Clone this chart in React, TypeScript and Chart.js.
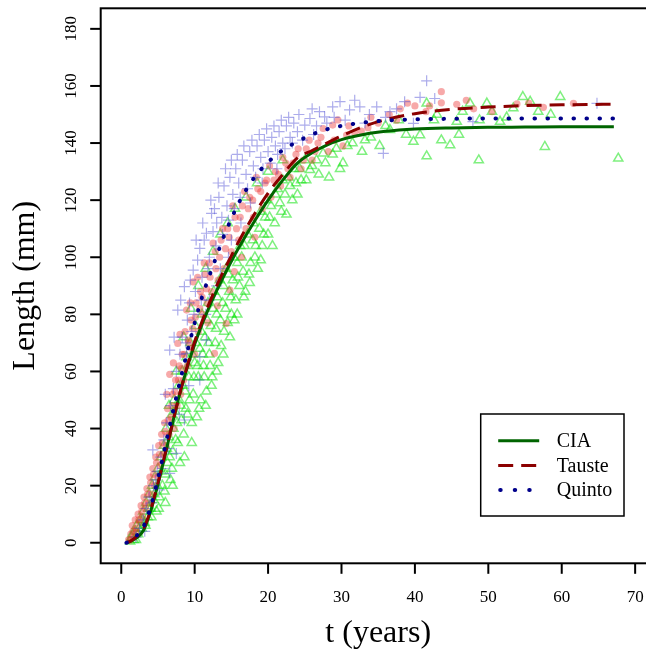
import React, { useEffect, useRef } from "react";
import { Chart, registerables } from "chart.js";

Chart.register(...registerables);

// ---- fitted growth curves (t in years, length in mm) ----
const curveT = [0.7, 1, 1.5, 2, 3, 4, 5, 6, 7, 8, 9, 10, 11, 12, 13, 14, 15, 16, 18, 20, 22, 24, 26, 28, 30, 33, 36, 40, 45, 50, 55, 60, 67.1];
const ciaFit = [0, 0.2, 0.8, 1.6, 4.2, 11, 20.5, 31, 42, 52.5, 61.5, 69.5, 76.5, 82.7, 88.3, 93.6, 98.6, 103.3, 112, 120, 127, 133, 136.6, 139.3, 141.2, 143, 144.1, 144.9, 145.3, 145.5, 145.6, 145.7, 145.7];
const tausteFit = [0, 0.3, 1, 2, 4.8, 11.5, 21, 31.5, 42, 52.5, 62, 70.5, 77.5, 84, 90, 95.5, 100.5, 105.5, 114.5, 122.5, 129, 134.8, 137.4, 140, 142.5, 145.8, 148.2, 150.3, 151.8, 152.6, 153.1, 153.4, 153.6];
const quintoFit = [0, 0.3, 1, 2.2, 5.5, 12.5, 22.5, 34, 45.5, 56.5, 67, 77, 86, 93.5, 100.5, 107.5, 113.5, 119, 127.5, 133.3, 137.5, 140.5, 143, 144.8, 146, 147.2, 147.9, 148.3, 148.5, 148.6, 148.6, 148.6, 148.6];

// ---- observations [t, length] ----
const ciaObs: [number, number][] = [
  [1.2, 0.5], [1.4, 2], [1.7, 1], [1.9, 4], [2.1, 6], [2.3, 3], [2.6, 8], [2.8, 5], [3.0, 11], [3.2, 7],
  [3.4, 14], [3.6, 9], [3.8, 17], [4.0, 12], [4.2, 20], [4.4, 15], [4.6, 23], [4.8, 11], [5.0, 26], [5.2, 16],
  [5.4, 30], [5.6, 20], [5.8, 34], [6.0, 24], [6.1, 40], [6.3, 28], [6.5, 37], [6.7, 22], [6.9, 45], [7.0, 32],
  [7.2, 50], [7.4, 36], [7.6, 42], [7.8, 55], [8.0, 28], [8.1, 48], [8.3, 60], [8.5, 38], [8.7, 53], [8.9, 65],
  [9.0, 45], [9.2, 58], [9.4, 70], [9.6, 35], [9.8, 52], [10.0, 63], [10.1, 76], [10.3, 44], [10.5, 58], [10.7, 68],
  [10.8, 50], [11.0, 80], [11.2, 62], [11.4, 72], [11.6, 53], [11.8, 84], [12.0, 66], [12.2, 76], [12.4, 58], [12.6, 88],
  [12.8, 70], [13.0, 80], [13.2, 63], [13.4, 92], [13.6, 69], [13.8, 84], [14.0, 74], [14.3, 96], [14.5, 77], [14.7, 88],
  [15.0, 80], [15.3, 100], [15.6, 85], [15.9, 93], [16.2, 104], [16.6, 95], [16.9, 88], [17.2, 108], [17.6, 98], [18.0, 112],
  [18.3, 104], [18.6, 96], [19.0, 116], [19.4, 108], [19.8, 120], [20.2, 114], [20.6, 104], [21.0, 122], [21.6, 119], [22.0, 127],
  [22.5, 115], [23.0, 125], [23.5, 131], [24.0, 122], [24.5, 127], [25.0, 134], [25.7, 130.6], [26.6, 134], [27.5, 136.4], [28.3, 128],
  [29.3, 138.1], [30.2, 133], [31.5, 140], [32.8, 137], [34.0, 142], [35.2, 139], [36.6, 144.6], [37.8, 148], [39.8, 140.5], [40.7, 142.8],
  [41.6, 135.4], [41.6, 153.9], [42.6, 148], [43.6, 141], [44.8, 139.3], [45.7, 147.5], [46.5, 151], [47.5, 153.9], [48.7, 134], [48.8, 148],
  [49.8, 153.9], [51.6, 147.5], [53.4, 152.2], [54.7, 156.2], [55.7, 154.5], [56.8, 151], [57.7, 138.7], [59.8, 156.2], [67.7, 134.6],
  [6.5, 48], [7.5, 60], [8.5, 72], [9.5, 82], [10.5, 90], [11.5, 96], [12.5, 102], [13.5, 108], [14.5, 112], [15.5, 117],
  [17.0, 121], [18.5, 126], [20.0, 130], [22.0, 134],
  [1.5, 3], [2.0, 1], [2.4, 5], [2.9, 8], [3.3, 6], [3.7, 12], [4.1, 9], [4.5, 17], [4.9, 20], [5.1, 12],
  [5.5, 25], [5.9, 18], [6.2, 33], [6.6, 30], [6.9, 26], [7.1, 40], [7.3, 46], [7.7, 35], [7.9, 50], [8.2, 43],
  [8.4, 55], [8.8, 47], [9.1, 62], [9.3, 50], [9.7, 66], [9.9, 58], [10.2, 70], [10.4, 62], [10.6, 47], [10.9, 74],
  [11.1, 66], [11.3, 58], [11.7, 78], [11.9, 70], [12.1, 62], [12.5, 82], [12.9, 75], [13.1, 86], [13.5, 78], [13.9, 90],
  [14.2, 82], [14.6, 94], [14.9, 86], [15.2, 92], [15.4, 78], [15.8, 98], [16.1, 90], [16.4, 100], [16.8, 104], [17.4, 94],
  [17.9, 106], [18.2, 100], [18.8, 110], [19.2, 104], [19.6, 114], [20.0, 108], [20.4, 118], [20.9, 112], [21.3, 124], [21.8, 116],
  [22.3, 122], [22.8, 128], [23.3, 120], [23.8, 126], [24.3, 131], [25.2, 127], [26.0, 132], [26.9, 129], [27.8, 133], [28.8, 136],
  [29.8, 131], [30.8, 139], [33.2, 141], [36.0, 146], [38.8, 143], [43.0, 150], [46.0, 143], [50.5, 151], [52.5, 149], [58.5, 150],
  [6.0, 14], [7.0, 20], [8.6, 30], [9.6, 42], [11.5, 48], [12.3, 55], [13.0, 60], [13.9, 66], [14.8, 72], [15.8, 80],
  [16.7, 86], [17.5, 91], [19.0, 99],
];

const tausteObs: [number, number][] = [
  [1.0, 1], [1.3, 3], [1.5, 6], [1.7, 2], [1.9, 8], [2.1, 4], [2.3, 10], [2.5, 7], [2.7, 13], [2.9, 9],
  [3.1, 16], [3.3, 12], [3.5, 19], [3.7, 14], [3.9, 23], [4.1, 17], [4.3, 26], [4.5, 20], [4.7, 30], [4.9, 23],
  [5.1, 34], [5.3, 27], [5.5, 38], [5.7, 31], [5.9, 42], [6.1, 34], [6.3, 47], [6.5, 38], [6.6, 59], [6.8, 44],
  [7.0, 52], [7.2, 40], [7.4, 57], [7.6, 48], [7.7, 69.8], [7.9, 62], [8.1, 52], [8.3, 66], [8.5, 57], [8.7, 74],
  [8.9, 81.5], [9.0, 62], [9.2, 70], [9.5, 78], [9.8, 91.4], [10.0, 66], [10.2, 84], [10.5, 74], [10.8, 88], [11.1, 80],
  [11.4, 94], [11.7, 84], [12.0, 98], [12.3, 88], [12.7, 66.3], [12.8, 102], [13.2, 92], [13.6, 106], [14.0, 96], [14.3, 76.8],
  [14.5, 110], [14.8, 88.5], [15.0, 102], [15.5, 114], [16.0, 106], [16.5, 118], [17.0, 110], [17.5, 121], [18.0, 114], [18.6, 124],
  [19.2, 117], [19.8, 127], [20.4, 121], [21.0, 130], [21.7, 125], [22.4, 133], [23.0, 128], [23.8, 136], [24.5, 131], [25.2, 138],
  [26.0, 134], [26.8, 140], [27.5, 145.1], [28.2, 137], [28.8, 146.3], [29.5, 148.1], [30.2, 139], [30.7, 142.8], [31.8, 143.6], [32.7, 144.2],
  [33.6, 145.4], [35.0, 147], [36.5, 150], [38.0, 152], [40.0, 153], [41.5, 151], [43.6, 158], [43.6, 154.1], [45.7, 153.6], [48.0, 152],
  [50.5, 151], [53.9, 153.7], [57.5, 152.5], [61.6, 153.9],
  [1.2, 1], [1.6, 4], [2.0, 5], [2.4, 8], [2.8, 11], [3.2, 14], [3.6, 17], [4.0, 21], [4.4, 24], [4.8, 28],
  [5.2, 31], [5.6, 35], [6.0, 39], [6.4, 43], [6.2, 52], [6.9, 48], [7.3, 53], [7.1, 63], [7.8, 57], [8.2, 61],
  [8.0, 73], [8.6, 66], [9.1, 71], [9.4, 84], [9.7, 75], [10.1, 79], [10.4, 93], [10.7, 82], [11.0, 86], [11.3, 98],
  [11.6, 89], [12.1, 93], [12.5, 105], [12.9, 96], [13.4, 100], [13.8, 110], [14.2, 103], [14.7, 107], [15.2, 118], [15.7, 110],
  [16.2, 114], [16.8, 123], [17.3, 117], [17.9, 120], [18.4, 128], [19.0, 123], [19.6, 126], [20.2, 132], [20.8, 127], [21.4, 129],
  [22.0, 135], [22.7, 131], [23.4, 133], [24.1, 138], [24.8, 134], [25.6, 141], [26.4, 137], [27.2, 142], [29.0, 141], [31.0, 146],
  [34.0, 149], [37.5, 148], [39.0, 154], [42.0, 153], [47.0, 155], [55.5, 154], [9.6, 68], [11.8, 77], [13.1, 83], [15.4, 95],
  [16.4, 100], [18.2, 107],
];

const quintoObs: [number, number][] = [
  [2.0, 2], [2.5, 5], [3.0, 8], [3.4, 12], [3.8, 16], [4.3, 32.5], [4.4, 20], [4.9, 25], [5.2, 18.5], [5.4, 30],
  [5.8, 36], [6.2, 42], [6.6, 24.3], [6.6, 67.5], [6.7, 48], [7.1, 54], [7.5, 31.3], [7.5, 60], [7.7, 81.5], [8.0, 66],
  [8.3, 72], [8.6, 43], [8.6, 89.7], [8.9, 66.3], [9.0, 78], [9.3, 84], [9.6, 74], [9.8, 95.5], [10.1, 88], [10.4, 99],
  [10.7, 103.1], [10.7, 65.2], [10.7, 57], [11.0, 93], [11.3, 106], [11.6, 108.4], [11.6, 71], [12.0, 100], [12.3, 115.4], [12.5, 109],
  [12.7, 117], [13.0, 112], [13.3, 121], [13.7, 114], [14.0, 125], [14.4, 118], [14.8, 128], [15.2, 122], [15.6, 131], [16.0, 126],
  [16.5, 134], [17.0, 129], [17.5, 137], [18.0, 132], [18.5, 139], [19.0, 135], [19.5, 141], [20.0, 137], [20.5, 142], [21.0, 139],
  [21.5, 144], [22.0, 140], [22.5, 146], [23.0, 142], [23.5, 147], [24.0, 144], [25.0, 146.3], [25.7, 148.6], [26.2, 143], [27.0, 151],
  [27.7, 149.2], [28.8, 152.7], [29.8, 154.5], [31.1, 151.6], [32.5, 152.7], [33.2, 147], [34.8, 152.7], [35.7, 136.4], [36.6, 151], [38.6, 154.5],
  [39.8, 146.9], [40.7, 156], [41.6, 161.8], [42.7, 155.6], [47.9, 147.5], [64.8, 153.9],
  [9.2, 55], [12.0, 85], [13.5, 96], [15.0, 106], [16.3, 112], [17.6, 119], [19.2, 126], [21.2, 131],
  [3.2, 4], [4.1, 14], [4.7, 22], [5.6, 26], [6.0, 52], [6.4, 33], [7.2, 72], [7.9, 45], [8.1, 85], [8.8, 70],
  [9.4, 92], [9.9, 80], [10.2, 106], [10.9, 85], [11.1, 112], [11.8, 96], [12.2, 120], [12.9, 104], [13.2, 126], [13.8, 108],
  [14.2, 131], [14.6, 113], [15.0, 134], [15.4, 117], [15.8, 136], [16.2, 121], [16.7, 139], [17.2, 124], [17.8, 141], [18.3, 128],
  [18.8, 143], [19.3, 131], [19.8, 145], [20.3, 133], [20.8, 146], [21.3, 136], [21.8, 148], [22.3, 138], [22.8, 149], [23.3, 140],
  [24.2, 150], [24.7, 141], [26.0, 152], [26.6, 146], [28.0, 147], [29.0, 149], [30.5, 148], [31.8, 155], [33.8, 150], [36.0, 149],
  [37.5, 152], [11.5, 80], [13.0, 90], [14.6, 100],
];

const xTicks = [0, 10, 20, 30, 40, 50, 60, 70];
const yTicks = [0, 20, 40, 60, 80, 100, 120, 140, 160, 180];
const legendLabels = ["CIA", "Tauste", "Quinto"];
const xTitle = "t (years)";
const yTitle = "Length (mm)";

const COL_CIA = "#006400";
const COL_TAU = "#8B0000";
const COL_QUI = "#00008B";
const SERIF = '"Liberation Serif", "Times New Roman", serif';

const toXY = (arr: [number, number][]) => arr.map(([x, y]) => ({ x, y }));
const fitXY = (vals: number[]) => curveT.map((t, i) => ({ x: t, y: vals[i] }));

const framePlugin = {
  id: "frame",
  afterDatasetsDraw(chart: any) {
    const ctx: CanvasRenderingContext2D = chart.ctx;
    const { left, right, top, bottom } = chart.chartArea;
    const xs = chart.scales.x;
    const ys = chart.scales.y;
    ctx.save();
    ctx.strokeStyle = "#000";
    ctx.fillStyle = "#000";
    ctx.lineWidth = 2;
    ctx.strokeRect(left, top, right - left, bottom - top);

    // y axis ticks + labels
    ctx.font = `17px ${SERIF}`;
    ctx.textAlign = "center";
    ctx.textBaseline = "middle";
    for (const v of yTicks) {
      const py = ys.getPixelForValue(v);
      ctx.beginPath();
      ctx.moveTo(left, py);
      ctx.lineTo(left - 10.5, py);
      ctx.stroke();
      ctx.save();
      ctx.translate(left - 29, py);
      ctx.rotate(-Math.PI / 2);
      ctx.fillText(String(v), 0, 0);
      ctx.restore();
    }
    // x axis ticks + labels
    for (const v of xTicks) {
      const px = xs.getPixelForValue(v);
      ctx.beginPath();
      ctx.moveTo(px, bottom);
      ctx.lineTo(px, bottom + 10.5);
      ctx.stroke();
      ctx.fillText(String(v), px, bottom + 34);
    }
    // axis titles
    ctx.font = `32px ${SERIF}`;
    ctx.textBaseline = "alphabetic";
    ctx.fillText(xTitle, (left + right) / 2, 642);
    ctx.save();
    ctx.translate(34, (top + bottom) / 2);
    ctx.rotate(-Math.PI / 2);
    ctx.fillText(yTitle, 0, 0);
    ctx.restore();

    // legend
    const bx1 = right - 31.7;
    const by2 = bottom - 47.3;
    const bx0 = bx1 - 143.3;
    const by0 = by2 - 102;
    ctx.fillStyle = "#fff";
    ctx.fillRect(bx0, by0, bx1 - bx0, by2 - by0);
    ctx.lineWidth = 1.5;
    ctx.strokeStyle = "#000";
    ctx.strokeRect(bx0, by0, bx1 - bx0, by2 - by0);
    const styles = [
      { c: COL_CIA, dash: [] as number[], w: 3, cap: "butt" as CanvasLineCap },
      { c: COL_TAU, dash: [15, 8], w: 3, cap: "butt" as CanvasLineCap },
      { c: COL_QUI, dash: [0.5, 14], w: 4, cap: "round" as CanvasLineCap },
    ];
    ctx.font = `20px ${SERIF}`;
    ctx.textAlign = "left";
    ctx.textBaseline = "middle";
    legendLabels.forEach((lab, i) => {
      const y = by0 + 26.7 + i * 24.7;
      const s = styles[i];
      ctx.save();
      ctx.strokeStyle = s.c;
      ctx.lineWidth = s.w;
      ctx.lineCap = s.cap;
      ctx.setLineDash(s.dash);
      ctx.beginPath();
      ctx.moveTo(bx0 + 17.5 + (i === 2 ? 2 : 0), y);
      ctx.lineTo(bx0 + 58.5, y);
      ctx.stroke();
      ctx.restore();
      ctx.fillStyle = "#000";
      ctx.fillText(lab, bx0 + 76, y + 1);
    });
    ctx.restore();
  },
};

export default function App() {
  const ref = useRef<HTMLCanvasElement | null>(null);
  useEffect(() => {
    if (!ref.current) return;
    const chart = new Chart(ref.current, {
      type: "scatter",
      data: {
        datasets: [
          {
            label: "CIA fit",
            data: fitXY(ciaFit),
            showLine: true,
            borderColor: COL_CIA,
            borderWidth: 3,
            pointRadius: 0,
            cubicInterpolationMode: "monotone",
            order: 3,
          } as any,
          {
            label: "Tauste fit",
            data: fitXY(tausteFit),
            showLine: true,
            borderColor: COL_TAU,
            borderWidth: 3,
            borderDash: [15, 8],
            pointRadius: 0,
            cubicInterpolationMode: "monotone",
            order: 2,
          } as any,
          {
            label: "Quinto fit",
            data: fitXY(quintoFit),
            showLine: true,
            borderColor: COL_QUI,
            borderWidth: 4,
            borderDash: [0.5, 12.5],
            borderCapStyle: "round",
            pointRadius: 0,
            cubicInterpolationMode: "monotone",
            order: 1,
          } as any,
          {
            label: "CIA",
            data: toXY(ciaObs),
            pointStyle: "triangle",
            pointRadius: 5.3,
            backgroundColor: "rgba(0,0,0,0)",
            borderColor: "rgba(0,225,0,0.5)",
            borderWidth: 1.5,
            order: 6,
          },
          {
            label: "Tauste",
            data: toXY(tausteObs),
            pointStyle: "circle",
            pointRadius: 3.6,
            backgroundColor: "rgba(235,50,50,0.42)",
            borderWidth: 0,
            order: 5,
          },
          {
            label: "Quinto",
            data: toXY(quintoObs),
            pointStyle: "cross",
            pointRadius: 5.5,
            borderColor: "rgba(70,70,210,0.45)",
            borderWidth: 1.2,
            order: 4,
          },
        ],
      },
      options: {
        responsive: false,
        animation: false,
        devicePixelRatio: 1,
        events: [],
        layout: { padding: { left: 100.7, top: 8.3, right: 24.3, bottom: 88.7 } },
        scales: {
          x: { type: "linear", min: -2.8, max: 72.8, display: false },
          y: { type: "linear", min: -7.2, max: 187.2, display: false },
        },
        plugins: { legend: { display: false }, tooltip: { enabled: false } },
      },
      plugins: [framePlugin],
    });
    return () => chart.destroy();
  }, []);

  return (
    <div
      style={{
        position: "fixed",
        left: 0,
        top: 0,
        width: 646,
        height: 652,
        overflow: "hidden",
        background: "#fff",
      }}
    >
      <canvas ref={ref} width={680} height={652} style={{ display: "block" }} />
    </div>
  );
}
